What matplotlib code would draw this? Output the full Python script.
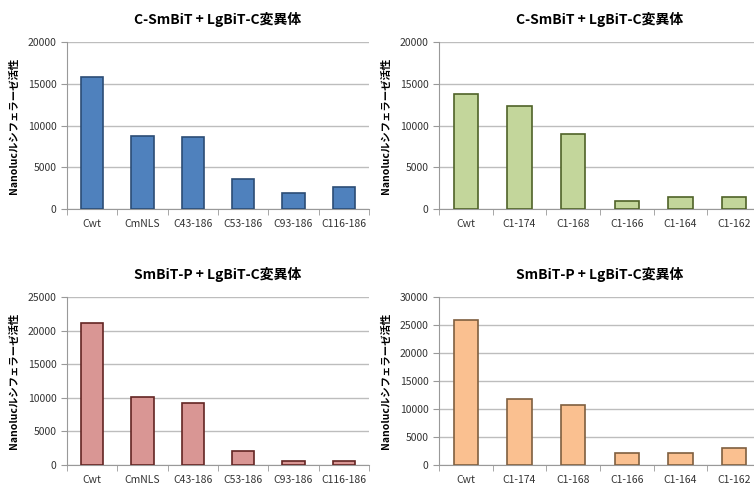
import matplotlib.pyplot as plt
import numpy as np

plt.rcParams['font.family'] = ['Noto Sans CJK JP', 'DejaVu Sans']

cats_a = ['Cwt', 'CmNLS', 'C43-186', 'C53-186', 'C93-186', 'C116-186']
cats_b = ['Cwt', 'C1-174', 'C1-168', 'C1-166', 'C1-164', 'C1-162']

vals_tl = [15850, 8780, 8660, 3550, 1960, 2600]
vals_tr = [13730, 12380, 9020, 920, 1400, 1400]
vals_bl = [21120, 10140, 9290, 2090, 650, 650]
vals_br = [25940, 11750, 10740, 2150, 2150, 2980]

title_top = 'C-SmBiT + LgBiT-C変異体'
title_bot = 'SmBiT-P + LgBiT-C変異体'
ylabel = 'Nanolucルシフェラーゼ活性'

fig = plt.figure(figsize=(7.54, 4.88), dpi=100)

panels = [
    # rect, cats, vals, ymax, step, face, edge, title
    ([67/754, 1-209/488, 302/754, 167/488], cats_a, vals_tl, 20000, 5000, '#4F81BD', '#2C4D75', title_top),
    ([439/754, 1-209/488, 322/754, 167/488], cats_b, vals_tr, 20000, 5000, '#C3D69B', '#4F6228', title_top),
    ([67/754, 1-465/488, 302/754, 168/488], cats_a, vals_bl, 25000, 5000, '#D99694', '#632523', title_bot),
    ([439/754, 1-465/488, 322/754, 168/488], cats_b, vals_br, 30000, 5000, '#FAC090', '#7F5F3F', title_bot),
]

for rect, cats, vals, ymax, step, fc, ec, title in panels:
    ax = fig.add_axes(rect)
    x = np.arange(len(cats))
    ax.bar(x, vals, width=0.45, color=fc, edgecolor=ec, linewidth=1.2, zorder=3)
    ax.set_xlim(-0.5, len(cats) - 0.5)
    ax.set_ylim(0, ymax)
    ax.set_yticks(np.arange(0, ymax + 1, step))
    ax.yaxis.grid(True, color='#BDBDBD', lw=1, zorder=0)
    ax.set_xticks(x)
    ax.set_xticklabels(cats, fontsize=7.5, color='#333333')
    ax.set_xticks(np.arange(-0.5, len(cats)), minor=True)
    ax.tick_params(axis='x', which='major', length=0, pad=7)
    ax.tick_params(axis='x', which='minor', length=4, color='#999999', direction='out')
    ax.tick_params(axis='y', labelsize=7.5, length=4, color='#999999', labelcolor='#333333')
    for s in ['top', 'right']:
        ax.spines[s].set_visible(False)
    for s in ['left', 'bottom']:
        ax.spines[s].set_color('#999999')
    ax.set_ylabel(ylabel, fontsize=7.5, fontweight='bold', labelpad=6)
    ax.set_title(title, fontsize=10, fontweight='bold', pad=13)

fig.savefig('out.png', dpi=100)
